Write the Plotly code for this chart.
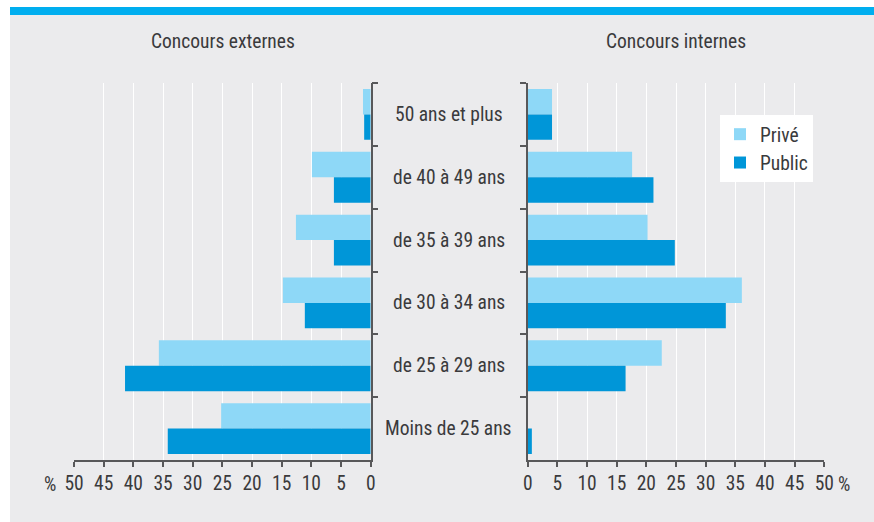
import plotly.graph_objects as go

categories = ["50 ans et plus", "de 40 à 49 ans", "de 35 à 39 ans",
              "de 30 à 34 ans", "de 25 à 29 ans", "Moins de 25 ans"]
ext_prive = [1.3, 9.9, 12.6, 14.8, 35.7, 25.2]
ext_public = [1.1, 6.2, 6.2, 11.1, 41.4, 34.2]
int_prive = [4.1, 17.6, 20.2, 36.1, 22.6, 0.0]
int_public = [4.1, 21.2, 24.8, 33.4, 16.5, 0.7]
tick_vals = [0, 5, 10, 15, 20, 25, 30, 35, 40, 45, 50]
tick_text = ["0", "5", "10", "15", "20", "25", "30", "35", "40", "45", "50"]

C_PRIVE = "#8ed8f7"
C_PUBLIC = "#0096d8"
TXT = "#3a3a3c"
AX = "#58585a"
BG = "#ebebed"
FONT = "Roboto Condensed, Liberation Sans Narrow, sans-serif"
FS = 19.5

W, H = 874, 522
fig = go.Figure()

fig.add_trace(go.Bar(y=categories, x=ext_prive, orientation="h", name="Privé",
                     marker=dict(color=C_PRIVE, line=dict(width=0)),
                     xaxis="x", yaxis="y", legendgroup="p", showlegend=True))
fig.add_trace(go.Bar(y=categories, x=ext_public, orientation="h", name="Public",
                     marker=dict(color=C_PUBLIC, line=dict(width=0)),
                     xaxis="x", yaxis="y", legendgroup="u", showlegend=True))
fig.add_trace(go.Bar(y=categories, x=int_prive, orientation="h", name="Privé",
                     marker=dict(color=C_PRIVE, line=dict(width=0)),
                     xaxis="x2", yaxis="y2", legendgroup="p", showlegend=False))
fig.add_trace(go.Bar(y=categories, x=int_public, orientation="h", name="Public",
                     marker=dict(color=C_PUBLIC, line=dict(width=0)),
                     xaxis="x2", yaxis="y2", legendgroup="u", showlegend=False))

ydom = [(H - 460) / H, (H - 83) / H]
xcommon = dict(tickvals=tick_vals, ticktext=tick_text, showgrid=True,
               gridcolor="white", gridwidth=1.2, showline=True, linecolor=AX,
               linewidth=1.5, ticks="outside", ticklen=5, tickwidth=1.5,
               tickcolor=AX, zeroline=False, fixedrange=True, automargin=False,
               tickfont=dict(family=FONT, size=FS, color=TXT))
ycommon = dict(type="category", categoryorder="array", categoryarray=categories,
               autorange="reversed", domain=ydom, showgrid=False, zeroline=False,
               showline=True, linecolor=AX, linewidth=1.5, ticks="outside",
               tickson="boundaries", ticklen=6, tickwidth=1.5, tickcolor=AX,
               showticklabels=False, fixedrange=True, automargin=False)

fig.update_layout(
    width=W, height=H, autosize=False,
    margin=dict(l=0, r=0, t=0, b=0, pad=0, autoexpand=False),
    paper_bgcolor="white", plot_bgcolor=BG,
    barmode="group", bargap=0.19, bargroupgap=0,
    font=dict(family=FONT, size=FS, color=TXT),
    xaxis=dict(domain=[74 / W, 370.7 / W], range=[50, 0], anchor="y", **xcommon),
    yaxis=dict(anchor="x", side="right", **ycommon),
    xaxis2=dict(domain=[527.7 / W, 824.3 / W], range=[0, 50], anchor="y2", **xcommon),
    yaxis2=dict(anchor="x2", side="left", **ycommon),
    legend=dict(x=720 / W, y=(H - 115) / H, xanchor="left", yanchor="top",
                bgcolor="white", borderwidth=0, font=dict(size=FS, color=TXT),
                itemwidth=30, tracegroupgap=0),
    showlegend=True,
)

shapes = [
    dict(type="rect", xref="paper", yref="paper", x0=10 / W, x1=1, y0=0, y1=(H - 15) / H,
         fillcolor=BG, line=dict(width=0), layer="below"),
    dict(type="rect", xref="paper", yref="paper", x0=10 / W, x1=1, y0=(H - 15) / H,
         y1=(H - 7) / H, fillcolor="#00aeef", line=dict(width=0), layer="below"),
]
fig.update_layout(shapes=shapes)

ann = []
for c in categories:
    ann.append(dict(text=c, xref="paper", yref="y", x=449 / W, y=c, showarrow=False,
                    xanchor="center", yanchor="middle", font=dict(size=FS, color=TXT)))
ann.append(dict(text="Concours externes", xref="paper", yref="paper", x=222.5 / W,
                y=(H - 41) / H, showarrow=False, xanchor="center", yanchor="middle",
                font=dict(size=FS, color=TXT)))
ann.append(dict(text="Concours internes", xref="paper", yref="paper", x=676 / W,
                y=(H - 41) / H, showarrow=False, xanchor="center", yanchor="middle",
                font=dict(size=FS, color=TXT)))
ann.append(dict(text="%", xref="x", yref="paper", x=50, y=(H - 484) / H, xshift=-16,
                showarrow=False, xanchor="right", yanchor="middle",
                font=dict(size=FS, color=TXT)))
ann.append(dict(text="%", xref="x2", yref="paper", x=50, y=(H - 484) / H, xshift=12,
                showarrow=False, xanchor="left", yanchor="middle",
                font=dict(size=FS, color=TXT)))
fig.update_layout(annotations=ann)

post = (
    "document.documentElement.style.margin='0';"
    "document.documentElement.style.padding='0';"
    "document.documentElement.style.overflow='hidden';"
    "document.body.style.margin='0';document.body.style.padding='0';"
    "document.body.style.overflow='hidden';"
)
fig.write_html("out.html", config={"displayModeBar": False, "responsive": False},
               post_script=post)
